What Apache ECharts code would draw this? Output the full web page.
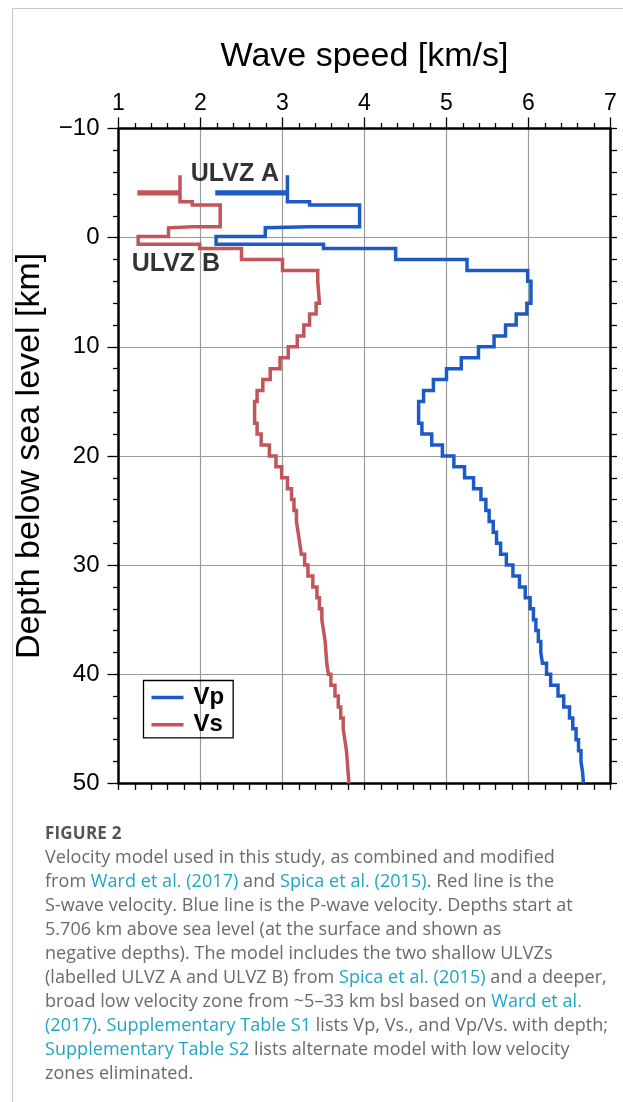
<!DOCTYPE html>
<html>
<head>
<meta charset="utf-8">
<script src="https://cdn.jsdelivr.net/npm/echarts@6/dist/echarts.min.js"></script>
<style>
  html, body { margin: 0; padding: 0; background: #fff; }
  #page { position: relative; width: 623px; height: 1102px; overflow: hidden; }
  #frame { position: absolute; left: 12px; top: 8px; right: -2px; bottom: -2px;
           border-left: 1px solid #c8c8c8; border-top: 1px solid #c8c8c8; }
  #chart { position: absolute; left: 0; top: 0; width: 623px; height: 1102px; }
  #caption { position: absolute; left: 45px; top: 821px; width: 575px;
             font-family: "Open Sans", "Noto Sans", sans-serif; color: #6a6a6a;
             font-size: 18px; line-height: 24px; white-space: nowrap; letter-spacing: 0.05px; }
  #caption .fig { font-weight: bold; color: #555; font-size: 17px; line-height: 23px; letter-spacing: 0.2px; }
  #caption .ref { color: #1ea6c8; }
</style>
</head>
<body>
<div id="page">
  <div id="frame"></div>
  <div id="chart"></div>
  <div id="caption">
    <div class="fig">FIGURE 2</div>
    <div>Velocity model used in this study, as combined and modified</div>
    <div>from <span class="ref">Ward et al. (2017)</span> and <span class="ref">Spica et al. (2015)</span>. Red line is the</div>
    <div>S-wave velocity. Blue line is the P-wave velocity. Depths start at</div>
    <div>5.706 km above sea level (at the surface and shown as</div>
    <div>negative depths). The model includes the two shallow ULVZs</div>
    <div>(labelled ULVZ A and ULVZ B) from <span class="ref">Spica et al. (2015)</span> and a deeper,</div>
    <div>broad low velocity zone from ~5–33 km bsl based on <span class="ref">Ward et al.</span></div>
    <div><span class="ref">(2017)</span>. <span class="ref">Supplementary Table S1</span> lists Vp, Vs., and Vp/Vs. with depth;</div>
    <div><span class="ref">Supplementary Table S2</span> lists alternate model with low velocity</div>
    <div>zones eliminated.</div>
  </div>
</div>
<script>
// Layered velocity model: top depth of each layer (km below sea level, negative = above)
const layerTops = [-5.706, -3.3, -3.0, -1.0, -0.9, -0.1, 0.6, 1, 2, 3, 4, 6, 7, 8, 9, 10,
  11, 12, 13, 14, 15, 17, 18, 19, 20, 21, 22, 23, 24, 25, 26, 27, 28, 29, 30,
  31, 32, 33, 34, 35, 36, 37, 38, 39, 40, 41, 42, 43, 44, 45, 46, 47, 48, 49];
const modelBottom = 50;

// P-wave velocity of each layer (km/s)
const vpValues = [3.06, 3.33, 3.94, 3.33, 2.79, 2.19, 3.50, 4.38, 5.25, 5.99, 6.03, 5.98, 5.85, 5.72, 5.58, 5.39,
  5.18, 5.00, 4.84, 4.72, 4.66, 4.70, 4.82, 4.95, 5.09, 5.22, 5.33, 5.42, 5.48, 5.52, 5.57, 5.61, 5.66, 5.73, 5.81,
  5.89, 5.96, 6.02, 6.06, 6.09, 6.12, 6.15, 6.17, 6.22, 6.27, 6.36, 6.43, 6.50, 6.54, 6.58, 6.61, 6.64, 6.66, 6.67];

// S-wave velocity of each layer (km/s)
const vsValues = [1.75, 1.90, 2.24, 1.90, 1.61, 1.24, 1.99, 2.50, 3.00, 3.43, 3.45, 3.41, 3.33, 3.26, 3.18, 3.07,
  2.97, 2.85, 2.76, 2.69, 2.66, 2.69, 2.74, 2.84, 2.92, 2.99, 3.06, 3.11, 3.14, 3.17, 3.19, 3.21, 3.23, 3.27, 3.31,
  3.37, 3.42, 3.45, 3.48, 3.50, 3.52, 3.53, 3.54, 3.56, 3.59, 3.64, 3.68, 3.71, 3.74, 3.76, 3.78, 3.79, 3.80, 3.81];

// Leader bars marking the shallow ULVZ A
const vpLeader = [[2.18, -4.1], [3.06, -4.1]];
const vsLeader = [[1.23, -4.1], [1.75, -4.1]];

// Zone annotations: [velocity, depth, text]
const zoneLabels = [[2.42, -5.85, 'ULVZ A'], [1.70, 2.4, 'ULVZ B']];

// Axis ranges and tick steps
const speedRange = [1, 7];
const depthRange = [-10, 50];
const speedStep = 1;
const depthStep = 10;

const VP_COLOR = '#1c5bc5';
const VS_COLOR = '#c2555a';
const FONT = '"Liberation Sans", Arial, Helvetica, sans-serif';

function stepProfile(tops, vals, bottom) {
  const pts = [];
  for (let i = 0; i < tops.length; i++) {
    const lower = i + 1 < tops.length ? tops[i + 1] : bottom;
    pts.push([vals[i], tops[i]], [vals[i], lower]);
  }
  return pts;
}

const frameLine = { show: true, onZero: false, lineStyle: { color: '#000', width: 2.5 } };
const tickStyle = { color: '#000', width: 1.3 };

const chart = echarts.init(document.getElementById('chart'), null, { renderer: 'canvas' });
chart.setOption({
  animation: false,
  backgroundColor: 'transparent',
  grid: { left: 118.5, right: 12.5, top: 128.5, bottom: 318.6, containLabel: false },
  xAxis: [
    {
      type: 'value', position: 'top', min: speedRange[0], max: speedRange[1], interval: speedStep,
      name: 'Wave speed [km/s]', nameLocation: 'middle', nameGap: 55,
      nameTextStyle: { fontSize: 34, fontFamily: FONT, color: '#000' },
      axisLine: frameLine,
      axisTick: { show: true, inside: false, length: 11, lineStyle: tickStyle },
      minorTick: { show: true, splitNumber: 5, length: 5.5, lineStyle: tickStyle },
      axisLabel: { fontSize: 23, margin: 13, color: '#000', fontFamily: FONT },
      splitLine: { show: true, lineStyle: { color: '#9a9a9a', width: 1.2 } }
    },
    {
      type: 'value', position: 'bottom', min: speedRange[0], max: speedRange[1], interval: speedStep,
      axisLine: frameLine,
      axisTick: { show: true, inside: false, length: 6.5, lineStyle: tickStyle },
      minorTick: { show: true, splitNumber: 5, length: 6.5, lineStyle: tickStyle },
      axisLabel: { show: false },
      splitLine: { show: false }
    }
  ],
  yAxis: [
    {
      type: 'value', position: 'left', inverse: true, min: depthRange[0], max: depthRange[1], interval: depthStep,
      name: 'Depth below sea level [km]', nameLocation: 'middle', nameGap: 72, nameRotate: 90,
      nameTextStyle: { fontSize: 34, fontFamily: FONT, color: '#000' },
      axisLine: frameLine,
      axisTick: { show: true, inside: false, length: 11, lineStyle: tickStyle },
      minorTick: { show: true, splitNumber: 5, length: 5.5, lineStyle: tickStyle },
      axisLabel: {
        fontSize: 24, margin: 19, color: '#000', fontFamily: FONT,
        formatter: v => String(v).replace('-', '\u2212')
      },
      splitLine: { show: true, lineStyle: { color: '#9a9a9a', width: 1.2 } }
    },
    {
      type: 'value', position: 'right', inverse: true, min: depthRange[0], max: depthRange[1], interval: depthStep,
      axisLine: frameLine,
      axisTick: { show: true, inside: false, length: 6.5, lineStyle: tickStyle },
      minorTick: { show: true, splitNumber: 5, length: 6.5, lineStyle: tickStyle },
      axisLabel: { show: false },
      splitLine: { show: false }
    }
  ],
  legend: {
    data: ['Vp', 'Vs'], orient: 'vertical', left: 143.5, top: 680.5,
    padding: [5, 9, 1, 8], itemGap: 3.3, itemWidth: 32, itemHeight: 3.4, icon: 'rect',
    borderColor: '#000', borderWidth: 1.3, backgroundColor: 'transparent',
    textStyle: { fontSize: 24, fontWeight: 'bold', fontFamily: FONT, color: '#000', padding: [0, 0, 0, 5] }
  },
  series: [
    {
      name: 'Vp', type: 'line', xAxisIndex: 0, yAxisIndex: 0, symbol: 'none',
      data: stepProfile(layerTops, vpValues, modelBottom),
      itemStyle: { color: VP_COLOR },
      lineStyle: { color: VP_COLOR, width: 3.5, join: 'miter', cap: 'butt' }, z: 3
    },
    {
      name: 'Vs', type: 'line', xAxisIndex: 0, yAxisIndex: 0, symbol: 'none',
      data: stepProfile(layerTops, vsValues, modelBottom),
      itemStyle: { color: VS_COLOR },
      lineStyle: { color: VS_COLOR, width: 3.5, join: 'miter', cap: 'butt' }, z: 3
    },
    {
      name: 'Vp bar', type: 'line', symbol: 'none', data: vpLeader,
      lineStyle: { color: VP_COLOR, width: 5.3, cap: 'butt' }, z: 3
    },
    {
      name: 'Vs bar', type: 'line', symbol: 'none', data: vsLeader,
      lineStyle: { color: VS_COLOR, width: 5.3, cap: 'butt' }, z: 3
    },
    {
      name: 'zones', type: 'scatter', symbolSize: 0, z: 5,
      data: zoneLabels.map(d => ({ value: [d[0], d[1]], name: d[2] })),
      label: {
        show: true, position: 'inside', formatter: p => p.name,
        fontSize: 25, fontWeight: 'bold', fontFamily: FONT, color: '#000'
      }
    }
  ]
});
</script>
</body>
</html>
